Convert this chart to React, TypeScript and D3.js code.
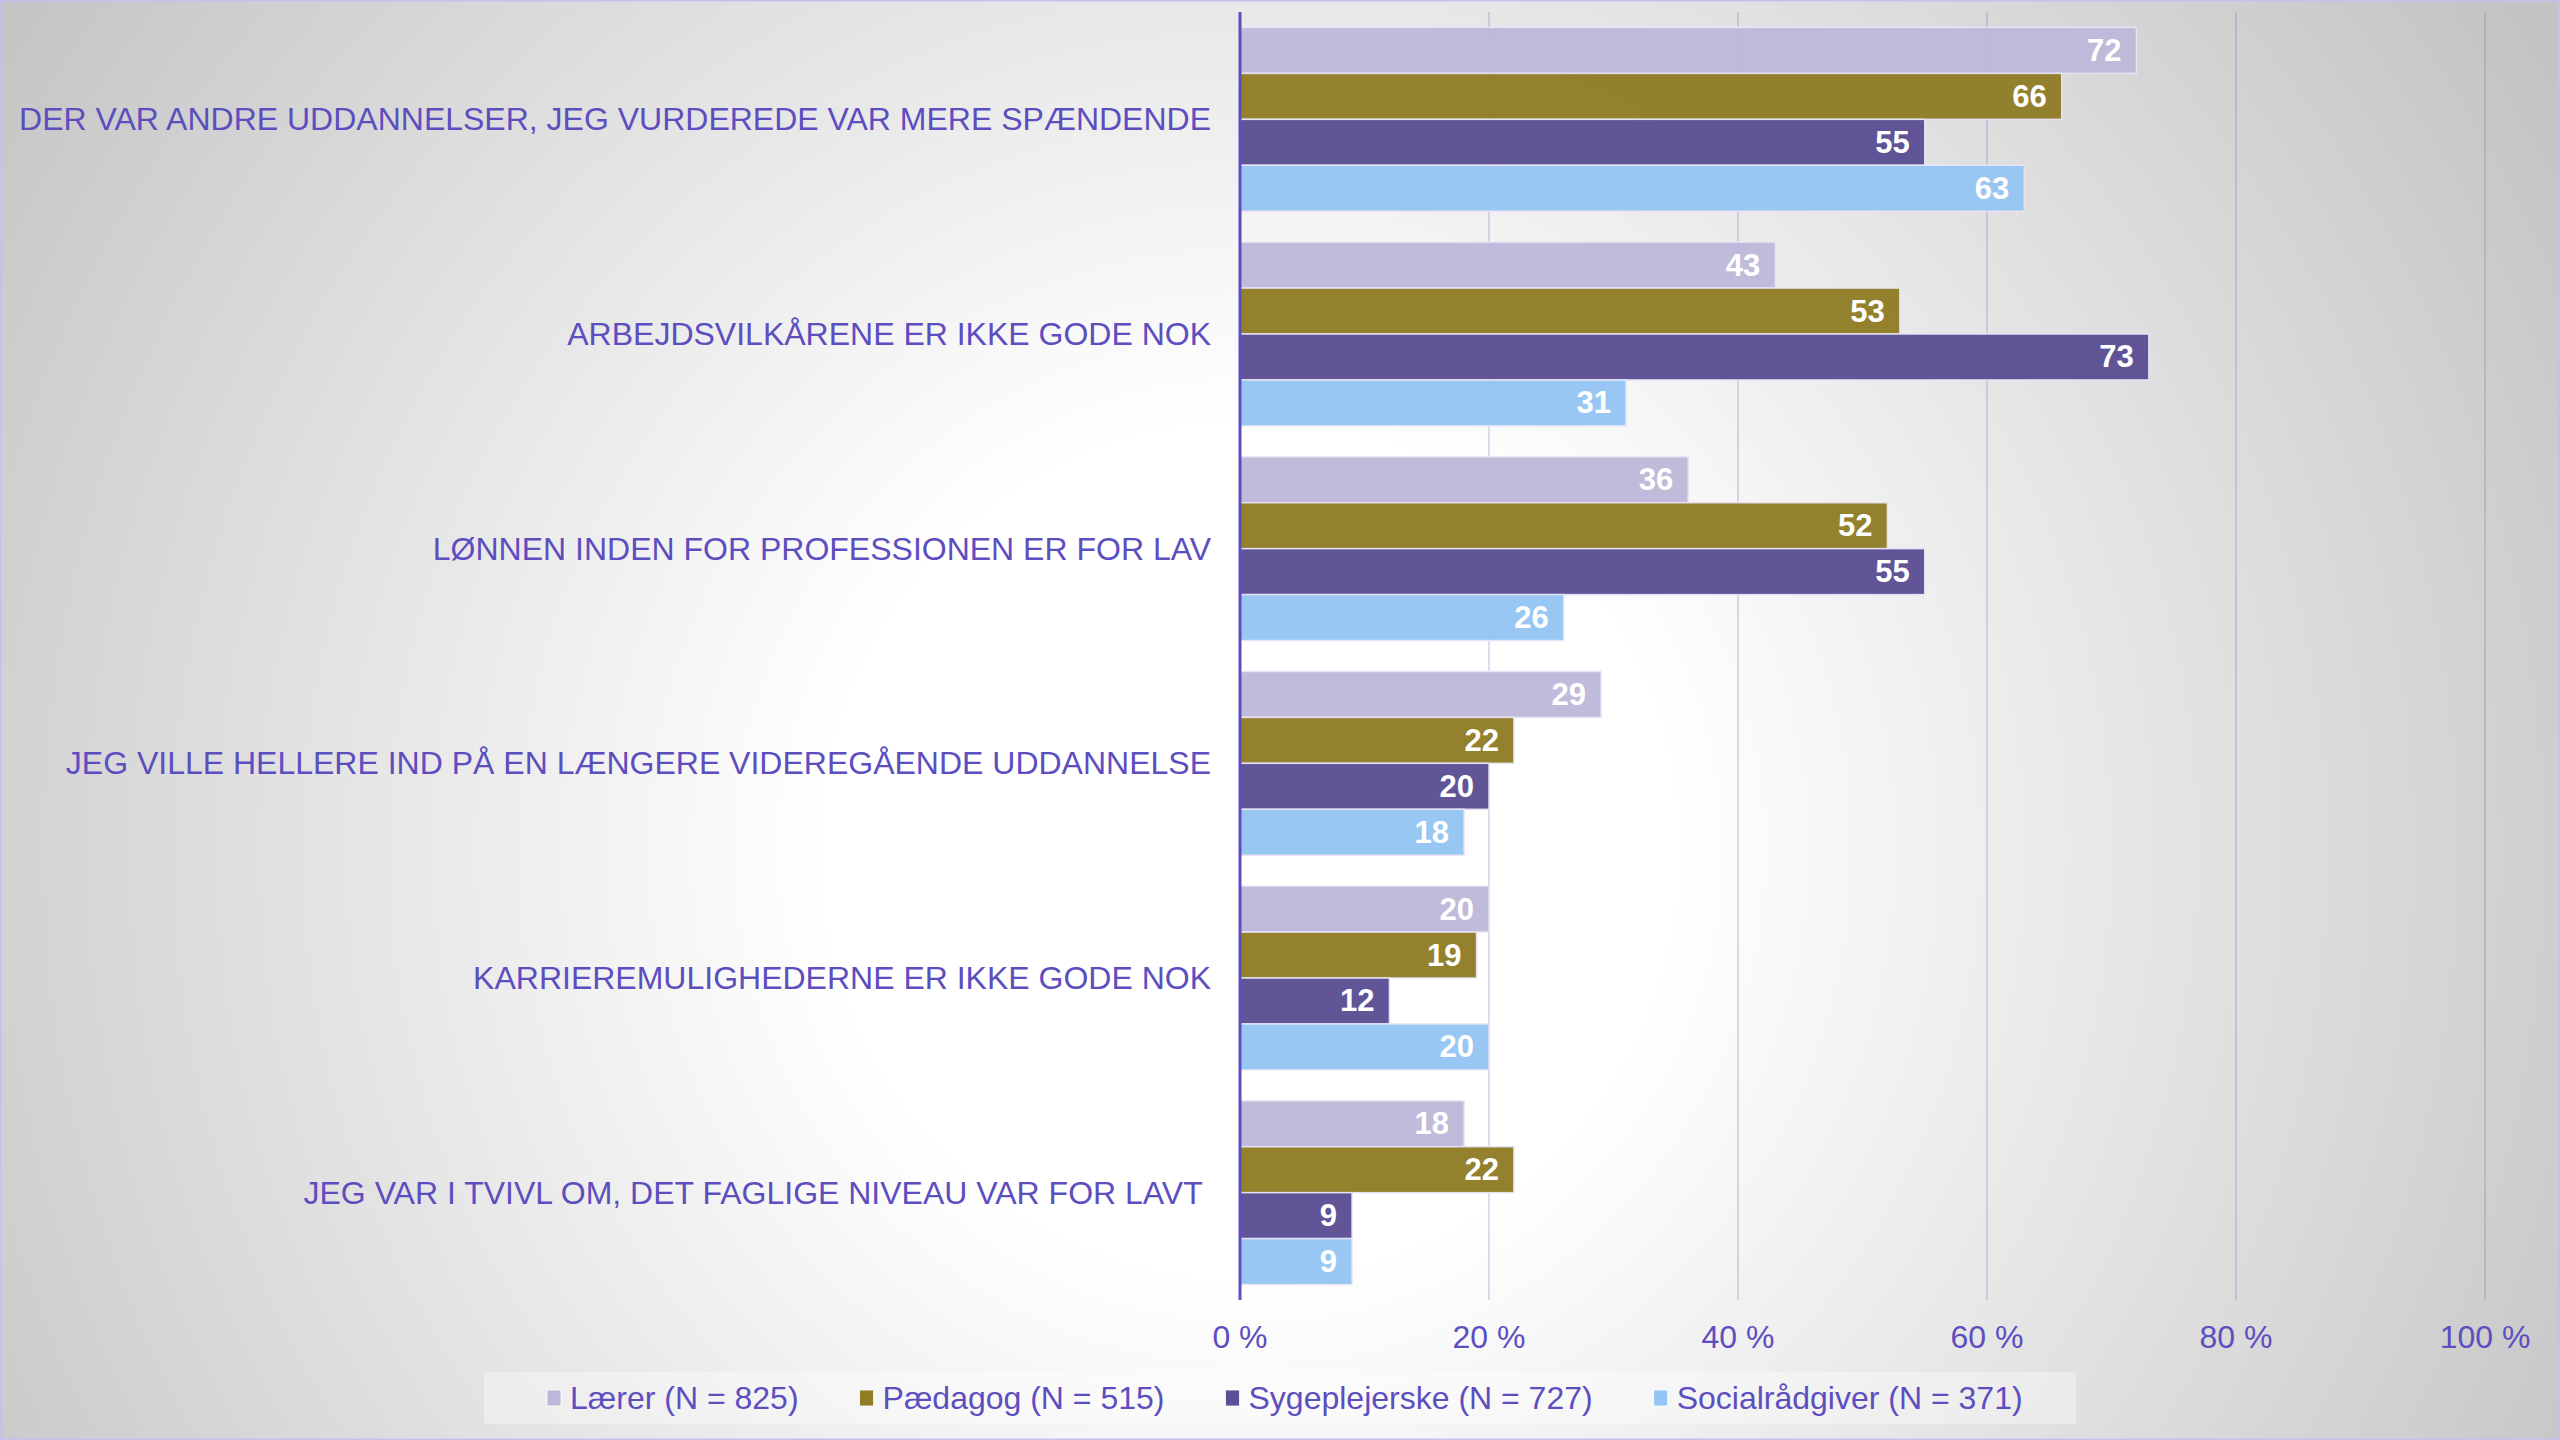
import React from "react";
import * as d3 from "d3";

const categories = [
  "DER VAR ANDRE UDDANNELSER, JEG VURDEREDE VAR MERE SPÆNDENDE",
  "ARBEJDSVILKÅRENE ER IKKE GODE NOK",
  "LØNNEN INDEN FOR PROFESSIONEN ER FOR LAV",
  "JEG VILLE HELLERE IND PÅ EN LÆNGERE VIDEREGÅENDE UDDANNELSE",
  "KARRIEREMULIGHEDERNE ER IKKE GODE NOK",
  "JEG VAR I TVIVL OM, DET FAGLIGE NIVEAU VAR FOR LAVT ",
];

const seriesNames = [
  "Lærer (N = 825)",
  "Pædagog (N = 515)",
  "Sygeplejerske (N = 727)",
  "Socialrådgiver (N = 371)",
];

const laerer = [72, 43, 36, 29, 20, 18];
const paedagog = [66, 53, 52, 22, 19, 22];
const sygeplejerske = [55, 73, 55, 20, 12, 9];
const socialraadgiver = [63, 31, 26, 18, 20, 9];

const seriesValues = [laerer, paedagog, sygeplejerske, socialraadgiver];
const seriesColors = ["#bdb8d8", "#8f7c25", "#5b4e94", "#94c5f4"];

const xTicks = [0, 20, 40, 60, 80, 100];

const W = 2560;
const H = 1440;
const FONT = "'Liberation Sans', Arial, Helvetica, sans-serif";
const TEXT = "#5d4ec0";

function measure(text: string, font: string): number {
  const c = document.createElement("canvas");
  const ctx = c.getContext("2d");
  if (!ctx) return text.length * 16;
  ctx.font = font;
  return ctx.measureText(text).width;
}

export default function App() {
  const x = d3.scaleLinear().domain([0, 100]).range([1240, 2485]);
  const y = d3
    .scaleBand<string>()
    .domain(categories)
    .range([12, 1300])
    .paddingInner(0.144)
    .paddingOuter(0.072);
  const ys = d3
    .scaleBand<number>()
    .domain(d3.range(seriesNames.length))
    .range([0, y.bandwidth()])
    .padding(0);

  // legend layout
  const legendFont = `32px ${FONT}`;
  let lx = 547;
  const legendItems = seriesNames.map((name, i) => {
    const item = { name, color: seriesColors[i], x: lx };
    lx += 14 + 9 + measure(name, legendFont) + 61;
    return item;
  });

  return (
    <svg
      width={W}
      height={H}
      style={{ position: "absolute", left: 0, top: 0, display: "block" }}
      fontFamily={FONT}
    >
      <defs>
        <radialGradient id="bg" gradientUnits="userSpaceOnUse" cx={1250} cy={850} r={1520}>
          <stop offset="0" stopColor="#ffffff" />
          <stop offset="0.28" stopColor="#ffffff" />
          <stop offset="1" stopColor="#c3c3c3" />
        </radialGradient>
      </defs>
      <rect x={0} y={0} width={W} height={H} fill="url(#bg)" />
      <rect x={0.5} y={0.5} width={W - 1} height={H - 1} fill="none" stroke="#c6bff0" strokeWidth={2} />

      {/* gridlines */}
      {xTicks.map((t) => (
        <line
          key={"g" + t}
          x1={x(t)}
          x2={x(t)}
          y1={12}
          y2={1300}
          stroke="rgba(120,105,190,0.32)"
          strokeWidth={1.5}
        />
      ))}

      {/* bars */}
      {categories.map((cat, ci) => (
        <g key={cat} transform={`translate(0,${y(cat)})`}>
          {seriesValues.map((vals, si) => {
            const v = vals[ci];
            const by = ys(si) as number;
            const bh = ys.bandwidth();
            return (
              <g key={si}>
                <rect
                  x={x(0)}
                  y={by}
                  width={x(v) - x(0)}
                  height={bh}
                  fill={seriesColors[si]}
                  fillOpacity={0.96}
                  stroke="rgba(232,228,246,0.95)"
                  strokeWidth={1.5}
                />
                <text
                  x={x(v) - 15}
                  y={by + bh / 2}
                  textAnchor="end"
                  dominantBaseline="central"
                  fill="#ffffff"
                  fontWeight="bold"
                  fontSize={31}
                >
                  {v}
                </text>
              </g>
            );
          })}
        </g>
      ))}

      {/* axis line */}
      <line x1={x(0)} x2={x(0)} y1={12} y2={1300} stroke="#5d4ec0" strokeWidth={3} />

      {/* category labels */}
      {categories.map((cat) => (
        <text
          key={"l" + cat}
          x={1211}
          y={(y(cat) as number) + y.bandwidth() / 2}
          textAnchor="end"
          dominantBaseline="central"
          fill={TEXT}
          fontSize={32}
          style={{ whiteSpace: "pre" }}
        >
          {cat}
        </text>
      ))}

      {/* tick labels */}
      {xTicks.map((t) => (
        <text
          key={"t" + t}
          x={x(t)}
          y={1337}
          textAnchor="middle"
          dominantBaseline="central"
          fill={TEXT}
          fontSize={32}
        >
          {`${t} %`}
        </text>
      ))}

      {/* legend */}
      <rect x={484} y={1372} width={1592} height={52} fill="rgba(255,255,255,0.35)" />
      {legendItems.map((it) => (
        <g key={it.name}>
          <rect x={it.x} y={1390} width={14} height={16} fill={it.color} stroke="rgba(255,255,255,0.8)" strokeWidth={1} />
          <text
            x={it.x + 23}
            y={1398}
            dominantBaseline="central"
            fill={TEXT}
            fontSize={32}
          >
            {it.name}
          </text>
        </g>
      ))}
    </svg>
  );
}
